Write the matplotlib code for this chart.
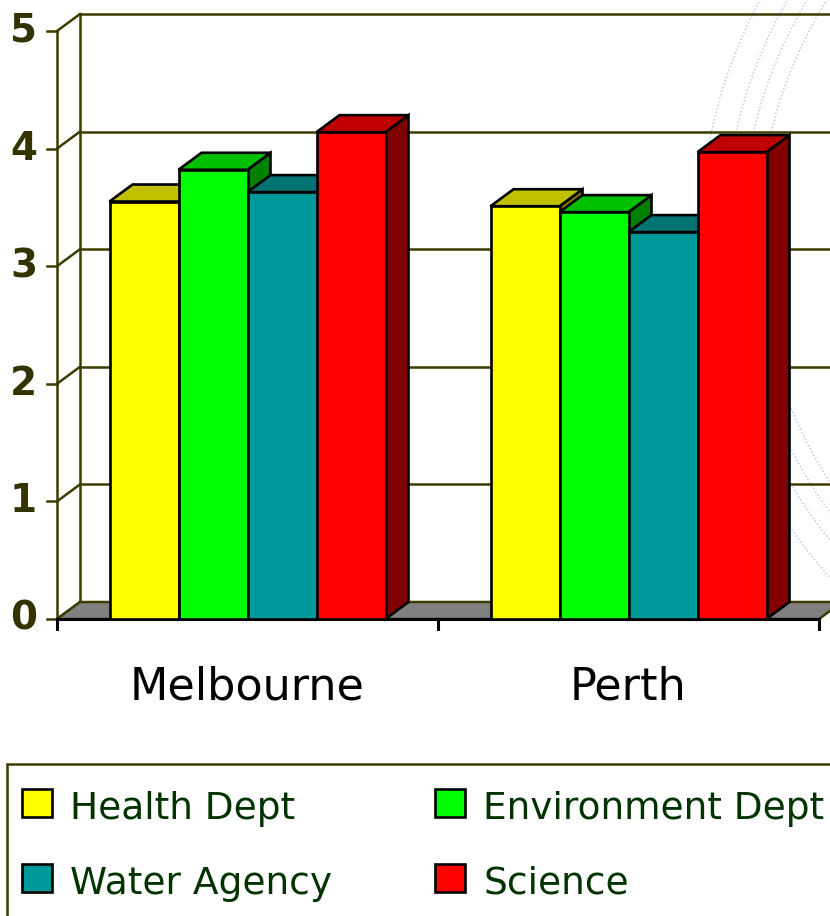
import numpy as np
import matplotlib.pyplot as plt
from matplotlib.patches import Polygon, Rectangle

categories = ['Melbourne', 'Perth']
series = ['Health Dept', 'Environment Dept', 'Water Agency', 'Science']
health = [3.55, 3.51]
environment = [3.82, 3.46]
water = [3.63, 3.29]
science = [4.14, 3.97]
yticks = [0, 1, 2, 3, 4, 5]

front_cols = ['#ffff00', '#00ff00', '#009999', '#ff0000']
top_cols = ['#c0c000', '#00c000', '#007373', '#c00000']
side_cols = ['#808000', '#008000', '#006666', '#800000']
olive = '#3c3c00'

fig = plt.figure(figsize=(8.3, 9.16), dpi=100)
ax = fig.add_axes([0, 0, 1, 1])
# one category = 381 px, one value unit = 117.6 px
px = 1 / 381
py = 1 / 117.6
ax.set_xlim(-57 * px, 773 * px)
ax.set_ylim(-297 * py, 619 * py)
ax.axis('off')

dx, dy = 23 * px, 17 * py   # depth of the 3d box
ncat = len(categories)
glw = 1.8   # wall / grid line width
blw = 1.9   # column edge width

# faint rings of the slide background
cx, cy = (1206 - 57) * px, (619 - 239) * py
t = np.linspace(0, 2 * np.pi, 1441)
for r in [448, 465, 482, 506]:
    ax.plot(cx + r * px * np.cos(t), cy + r * py * np.sin(t),
            ls=':', color='#a9c8ec', lw=1.0, zorder=0)

# back wall gridlines, depth diagonals, ticks and value labels
for v in yticks:
    ax.plot([dx, ncat + dx], [v + dy, v + dy], color=olive, lw=glw, zorder=1)
    ax.plot([0, dx], [v, v + dy], color=olive, lw=glw, zorder=1)
    ax.plot([-10 * px, 0], [v, v], color=olive, lw=glw, zorder=1)
    ax.text(-20 * px, v, str(v), ha='right', va='center', fontsize=28,
            fontweight='bold', color='#333300')
ax.plot([0, 0], [0, yticks[-1]], color=olive, lw=glw, zorder=1)
ax.plot([dx, dx], [dy, yticks[-1] + dy], color=olive, lw=glw, zorder=1)

# floor
ax.add_patch(Polygon([(0, 0), (ncat, 0), (ncat + dx, dy), (dx, dy)], closed=True,
                     fc='#808080', ec=olive, lw=glw, zorder=2))
ax.plot([0, ncat], [0, 0], color='black', lw=2.2, zorder=2.5)
for i in range(ncat + 1):
    ax.plot([i, i], [0, -10 * py], color='black', lw=2.2, zorder=2.5)

# 3d columns, drawn left to right so each one hides the side of the previous
values = [health, environment, water, science]
w = 69 * px
for i in range(ncat):
    for j, vals in enumerate(values):
        x0 = i + 0.5 - 2 * w + j * w
        h = vals[i]
        z = 3 + i * 10 + j * 2
        ax.add_patch(Polygon([(x0 + w, 0), (x0 + w + dx, dy), (x0 + w + dx, h + dy), (x0 + w, h)],
                             closed=True, fc=side_cols[j], ec='black', lw=blw, zorder=z))
        ax.add_patch(Polygon([(x0, h), (x0 + w, h), (x0 + w + dx, h + dy), (x0 + dx, h + dy)],
                             closed=True, fc=top_cols[j], ec='black', lw=blw, zorder=z))
        ax.bar(x0, h, width=w, align='edge', color=front_cols[j], edgecolor='black',
               lw=blw, zorder=z + 1)

for i, c in enumerate(categories):
    ax.text(i + 0.5, -81 * py, c, ha='center', va='baseline', fontsize=32, color='black')

# legend box
ax.add_patch(Rectangle((-50 * px, -400 * py), 1000 * px, (400 - 145) * py,
                       fc='none', ec=olive, lw=glw, zorder=1))
for k, name in enumerate(series):
    col, row = k % 2, k // 2
    lx = (22 + 413 * col - 57) * px
    ly = (619 - 817 - 75 * row) * py
    ax.add_patch(Rectangle((lx, ly), 30 * px, 28 * py, fc=front_cols[k], ec='black',
                           lw=blw, zorder=3))
    ax.text(lx + 48 * px, ly - 2 * py, name, ha='left', va='baseline', fontsize=27,
            color='#003300')

fig.savefig('out.png', dpi=100)
